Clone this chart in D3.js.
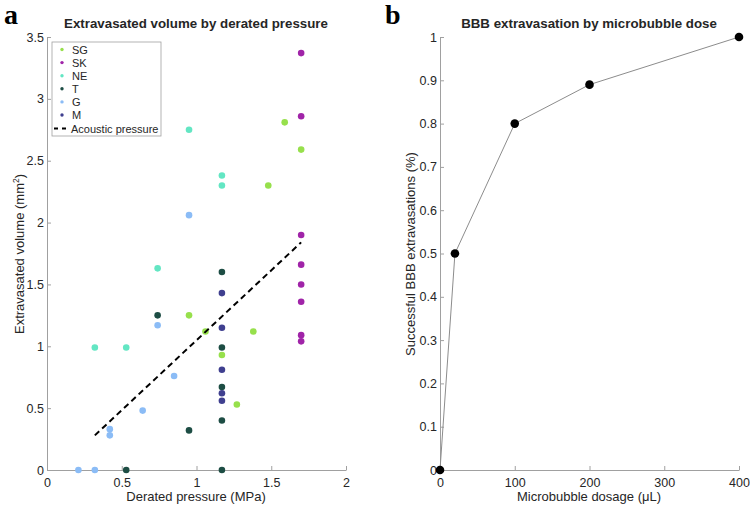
<!DOCTYPE html>
<html>
<head>
<meta charset="utf-8">
<script src="https://cdn.jsdelivr.net/npm/d3@7"></script>
<style>
  body { margin: 0; background: #fff; }
  text { font-family: "Liberation Sans", Arial, sans-serif; fill: #262626; }
  .panel { font-family: "Liberation Serif", "Times New Roman", serif; font-weight: bold; fill: #000; }
</style>
</head>
<body>
<div id="chart"></div>
<script>
// ---- panel a data: groups and their points
var groups = ["SG", "SK", "NE", "T", "G", "M"];
var groupColors = ["#97e04c", "#a024a8", "#63e6c3", "#1d4d44", "#8bbcf6", "#3f3f8f"];
var sgX = [0.95, 1.06, 1.17, 1.27, 1.38, 1.48, 1.59, 1.70];
var sgY = [1.25, 1.12, 0.93, 0.53, 1.12, 2.30, 2.81, 2.59];
var skX = [1.70, 1.70, 1.70, 1.70, 1.70, 1.70, 1.70, 1.70];
var skY = [3.37, 2.86, 1.90, 1.66, 1.50, 1.36, 1.09, 1.04];
var neX = [0.32, 0.53, 0.74, 0.95, 1.17, 1.17];
var neY = [0.99, 0.99, 1.63, 2.75, 2.38, 2.30];
var tX = [0.53, 0.74, 0.95, 1.17, 1.17, 1.17, 1.17, 1.17];
var tY = [0.00, 1.25, 0.32, 1.60, 0.99, 0.67, 0.40, 0.00];
var gX = [0.21, 0.32, 0.42, 0.42, 0.64, 0.74, 0.85, 0.95];
var gY = [0.00, 0.00, 0.33, 0.28, 0.48, 1.17, 0.76, 2.06];
var mX = [1.17, 1.17, 1.17, 1.17, 1.17];
var mY = [1.43, 1.15, 0.81, 0.62, 0.56];
var fitX = [0.32, 1.70];
var fitY = [0.28, 1.84];
var xTicksA = [0, 0.5, 1, 1.5, 2];
var yTicksA = [0, 0.5, 1, 1.5, 2, 2.5, 3, 3.5];

// ---- panel b data
var doseX = [0, 20, 100, 200, 400];
var successY = [0, 0.5, 0.8, 0.89, 1];
var xTicksB = [0, 100, 200, 300, 400];
var yTicksB = [0, 0.1, 0.2, 0.3, 0.4, 0.5, 0.6, 0.7, 0.8, 0.9, 1];

var W = 750, H = 506;
var axisColor = "#a0a0a0";

var svg = d3.select("#chart").append("svg")
  .attr("width", W).attr("height", H);

function drawAxes(x, y, xt, yt) {
  var g = svg.append("g");
  var gx = g.append("g")
    .attr("transform", "translate(0," + y.range()[0] + ")")
    .call(d3.axisBottom(x).tickValues(xt).tickSizeInner(-4).tickSizeOuter(0).tickPadding(8).tickFormat(d3.format("")));
  var gy = g.append("g")
    .attr("transform", "translate(" + x.range()[0] + ",0)")
    .call(d3.axisLeft(y).tickValues(yt).tickSizeInner(-4).tickSizeOuter(0).tickPadding(3).tickFormat(d3.format("")));
  [gx, gy].forEach(function(a) {
    a.select(".domain").attr("stroke", axisColor);
    a.selectAll(".tick line").attr("stroke", axisColor);
    a.selectAll(".tick text").attr("fill", "#262626").style("font-size", "12.5px")
      .style("font-family", "'Liberation Sans', Arial, sans-serif");
  });
}

// ================= panel a
var xA = d3.scaleLinear().domain([0, 2]).range([47, 346]);
var yA = d3.scaleLinear().domain([0, 3.5]).range([470, 37]);
drawAxes(xA, yA, xTicksA, yTicksA);

var series = [[sgX, sgY], [skX, skY], [neX, neY], [tX, tY], [gX, gY], [mX, mY]];
series.forEach(function(s, i) {
  var pts = s[0].map(function(v, j) { return [v, s[1][j]]; });
  svg.append("g").selectAll("circle").data(pts).enter().append("circle")
    .attr("cx", function(d) { return xA(d[0]); })
    .attr("cy", function(d) { return yA(d[1]); })
    .attr("r", 3.3)
    .attr("fill", groupColors[i]);
});

svg.append("line")
  .attr("x1", xA(fitX[0])).attr("y1", yA(fitY[0]))
  .attr("x2", xA(fitX[1])).attr("y2", yA(fitY[1]))
  .attr("stroke", "#000").attr("stroke-width", 2)
  .attr("stroke-dasharray", "6,4");

// legend
var lg = svg.append("g");
lg.append("rect").attr("x", 52).attr("y", 42).attr("width", 109).attr("height", 94)
  .attr("fill", "#fff").attr("stroke", "#a0a0a0").attr("stroke-width", 0.8);
groups.forEach(function(name, i) {
  var yy = 49.5 + i * 13.1;
  lg.append("circle").attr("cx", 62).attr("cy", yy).attr("r", 1.7).attr("fill", groupColors[i]);
  lg.append("text").attr("x", 72).attr("y", yy + 4).style("font-size", "11px").attr("fill", "#000").text(name);
});
lg.append("line").attr("x1", 54).attr("x2", 70).attr("y1", 128.5).attr("y2", 128.5)
  .attr("stroke", "#000").attr("stroke-width", 2).attr("stroke-dasharray", "4,4");
lg.append("text").attr("x", 71).attr("y", 132.5).style("font-size", "11px").attr("fill", "#000").text("Acoustic pressure");

svg.append("text").attr("x", 196).attr("y", 28).attr("text-anchor", "middle")
  .style("font-size", "13.3px").style("font-weight", "bold").attr("fill", "#000")
  .text("Extravasated volume by derated pressure");
svg.append("text").attr("x", 196).attr("y", 501).attr("text-anchor", "middle")
  .style("font-size", "13px").text("Derated pressure (MPa)");
var yl = svg.append("text").attr("transform", "translate(24,254) rotate(-90)")
  .attr("text-anchor", "middle").style("font-size", "13px");
yl.append("tspan").text("Extravasated volume (mm");
yl.append("tspan").attr("dy", -5).style("font-size", "8.5px").text("2");
yl.append("tspan").attr("dy", 5).text(")");

svg.append("text").attr("class", "panel").attr("x", 4).attr("y", 24).style("font-size", "28px").text("a");

// ================= panel b
var xB = d3.scaleLinear().domain([0, 400]).range([440, 739]);
var yB = d3.scaleLinear().domain([0, 1]).range([470, 37]);
drawAxes(xB, yB, xTicksB, yTicksB);

var ptsB = doseX.map(function(v, i) { return [v, successY[i]]; });
svg.append("path").datum(ptsB)
  .attr("fill", "none").attr("stroke", "#8c8c8c").attr("stroke-width", 1)
  .attr("d", d3.line().x(function(d) { return xB(d[0]); }).y(function(d) { return yB(d[1]); }));
svg.append("g").selectAll("circle").data(ptsB).enter().append("circle")
  .attr("cx", function(d) { return xB(d[0]); })
  .attr("cy", function(d) { return yB(d[1]); })
  .attr("r", 4.3).attr("fill", "#000");

svg.append("text").attr("x", 589).attr("y", 28).attr("text-anchor", "middle")
  .style("font-size", "13.3px").style("font-weight", "bold").attr("fill", "#000")
  .text("BBB extravasation by microbubble dose");
svg.append("text").attr("x", 589).attr("y", 501).attr("text-anchor", "middle")
  .style("font-size", "13px").text("Microbubble dosage (\u03BCL)");
svg.append("text").attr("transform", "translate(415,254) rotate(-90)")
  .attr("text-anchor", "middle").style("font-size", "13px")
  .text("Successful BBB extravasations (%)");

svg.append("text").attr("class", "panel").attr("x", 385).attr("y", 24).style("font-size", "28px").text("b");
</script>
</body>
</html>
